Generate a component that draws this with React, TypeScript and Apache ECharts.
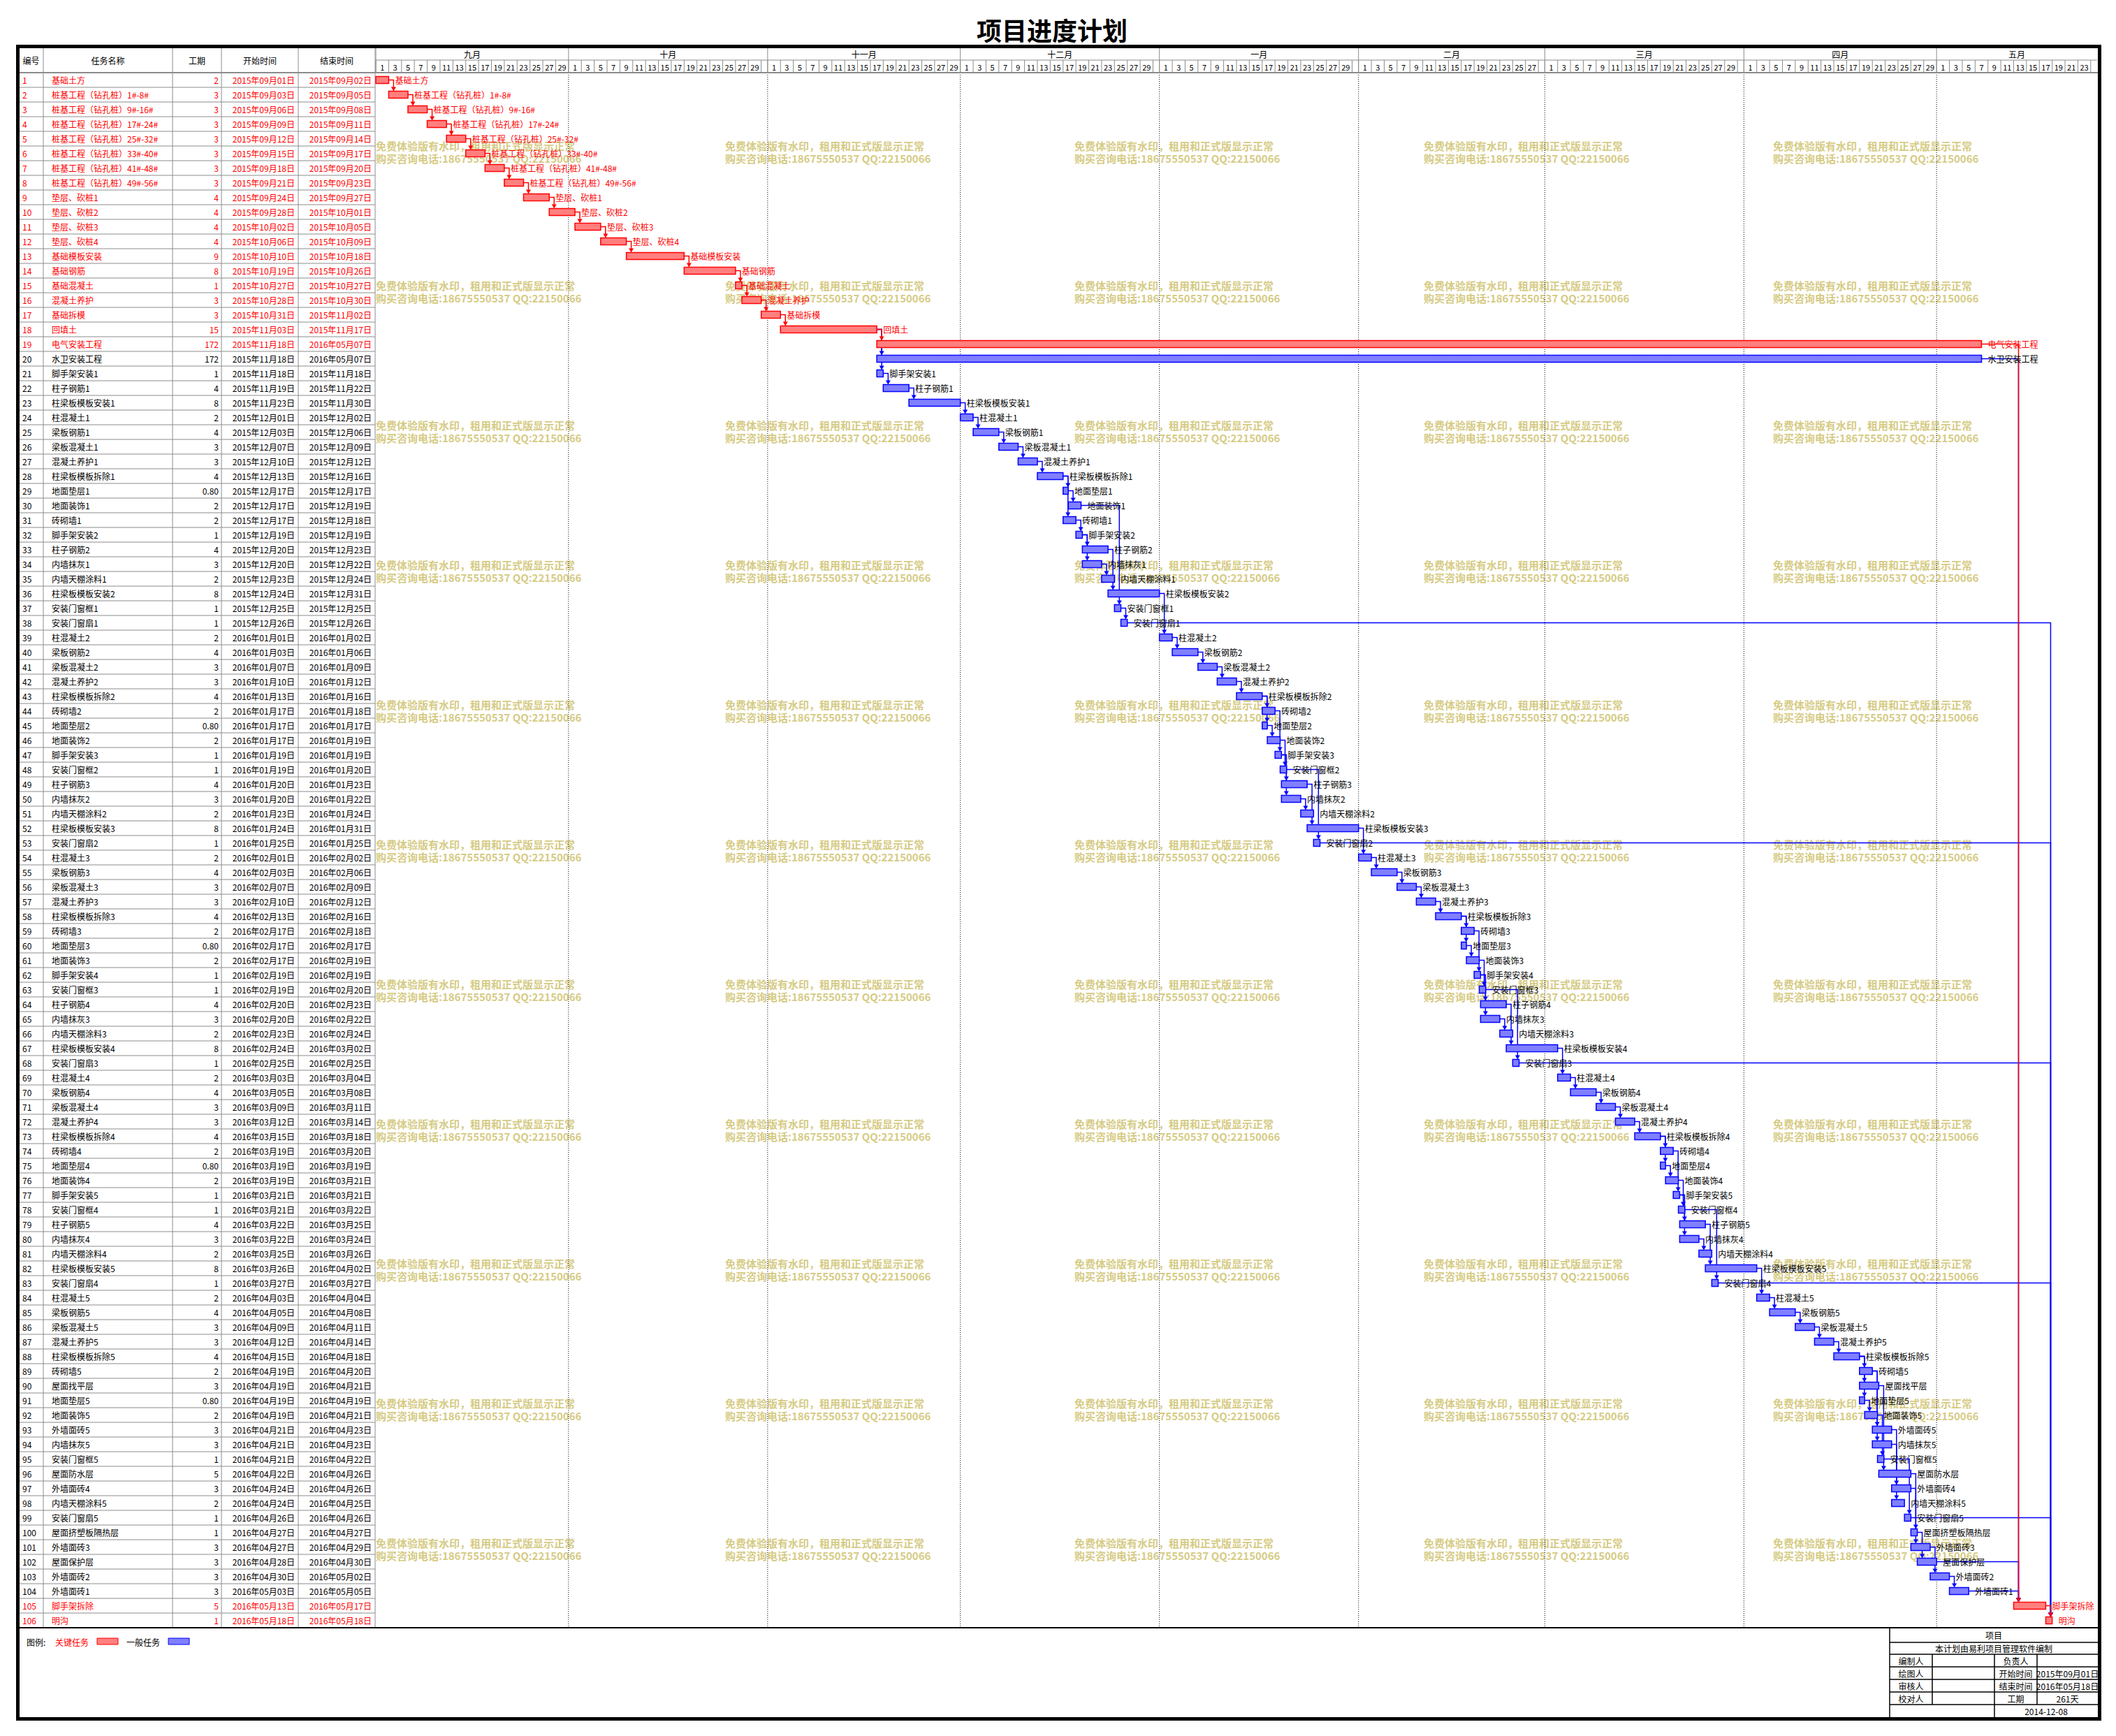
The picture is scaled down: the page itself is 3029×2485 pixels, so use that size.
import React, { useEffect, useRef } from 'react';
import * as echarts from 'echarts';

// ---------------- DATA ----------------
const taskNames = [
  '基础土方', '桩基工程（钻孔桩）1#-8#', '桩基工程（钻孔桩）9#-16#', '桩基工程（钻孔桩）17#-24#',
  '桩基工程（钻孔桩）25#-32#', '桩基工程（钻孔桩）33#-40#', '桩基工程（钻孔桩）41#-48#', '桩基工程（钻孔桩）49#-56#',
  '垫层、砍桩1', '垫层、砍桩2', '垫层、砍桩3', '垫层、砍桩4',
  '基础模板安装', '基础钢筋', '基础混凝土', '混凝土养护', '基础拆模', '回填土',
  '电气安装工程', '水卫安装工程',
  '脚手架安装1', '柱子钢筋1', '柱梁板模板安装1', '柱混凝土1', '梁板钢筋1', '梁板混凝土1', '混凝土养护1', '柱梁板模板拆除1',
  '地面垫层1', '地面装饰1', '砖砌墙1', '脚手架安装2', '柱子钢筋2', '内墙抹灰1', '内墙天棚涂料1', '柱梁板模板安装2', '安装门窗框1', '安装门窗扇1',
  '柱混凝土2', '梁板钢筋2', '梁板混凝土2', '混凝土养护2', '柱梁板模板拆除2', '砖砌墙2', '地面垫层2', '地面装饰2', '脚手架安装3', '安装门窗框2', '柱子钢筋3', '内墙抹灰2', '内墙天棚涂料2', '柱梁板模板安装3', '安装门窗扇2',
  '柱混凝土3', '梁板钢筋3', '梁板混凝土3', '混凝土养护3', '柱梁板模板拆除3', '砖砌墙3', '地面垫层3', '地面装饰3', '脚手架安装4', '安装门窗框3', '柱子钢筋4', '内墙抹灰3', '内墙天棚涂料3', '柱梁板模板安装4', '安装门窗扇3',
  '柱混凝土4', '梁板钢筋4', '梁板混凝土4', '混凝土养护4', '柱梁板模板拆除4', '砖砌墙4', '地面垫层4', '地面装饰4', '脚手架安装5', '安装门窗框4', '柱子钢筋5', '内墙抹灰4', '内墙天棚涂料4', '柱梁板模板安装5', '安装门窗扇4',
  '柱混凝土5', '梁板钢筋5', '梁板混凝土5', '混凝土养护5', '柱梁板模板拆除5', '砖砌墙5', '屋面找平层', '地面垫层5', '地面装饰5', '外墙面砖5', '内墙抹灰5', '安装门窗框5', '屋面防水层', '外墙面砖4', '内墙天棚涂料5', '安装门窗扇5', '屋面挤塑板隔热层', '外墙面砖3', '屋面保护层', '外墙面砖2', '外墙面砖1', '脚手架拆除', '明沟',
];

const durations = [
  2, 3, 3, 3, 3, 3, 3, 3, 4, 4, 4, 4, 9, 8, 1, 3, 3, 15, 172, 172,
  1, 4, 8, 2, 4, 3, 3, 4,
  0.8, 2, 2, 1, 4, 3, 2, 8, 1, 1,
  2, 4, 3, 3, 4, 2, 0.8, 2, 1, 1, 4, 3, 2, 8, 1,
  2, 4, 3, 3, 4, 2, 0.8, 2, 1, 1, 4, 3, 2, 8, 1,
  2, 4, 3, 3, 4, 2, 0.8, 2, 1, 1, 4, 3, 2, 8, 1,
  2, 4, 3, 3, 4, 2, 3, 0.8, 2, 3, 3, 1, 5, 3, 2, 1, 1, 3, 3, 3, 3, 5, 1,
];

const startDates = [
  '2015-09-01', '2015-09-03', '2015-09-06', '2015-09-09', '2015-09-12', '2015-09-15', '2015-09-18', '2015-09-21',
  '2015-09-24', '2015-09-28', '2015-10-02', '2015-10-06', '2015-10-10', '2015-10-19', '2015-10-27', '2015-10-28',
  '2015-10-31', '2015-11-03', '2015-11-18', '2015-11-18',
  '2015-11-18', '2015-11-19', '2015-11-23', '2015-12-01', '2015-12-03', '2015-12-07', '2015-12-10', '2015-12-13',
  '2015-12-17', '2015-12-17', '2015-12-17', '2015-12-19', '2015-12-20', '2015-12-20', '2015-12-23', '2015-12-24', '2015-12-25', '2015-12-26',
  '2016-01-01', '2016-01-03', '2016-01-07', '2016-01-10', '2016-01-13', '2016-01-17', '2016-01-17', '2016-01-17', '2016-01-19', '2016-01-19', '2016-01-20', '2016-01-20', '2016-01-23', '2016-01-24', '2016-01-25',
  '2016-02-01', '2016-02-03', '2016-02-07', '2016-02-10', '2016-02-13', '2016-02-17', '2016-02-17', '2016-02-17', '2016-02-19', '2016-02-19', '2016-02-20', '2016-02-20', '2016-02-23', '2016-02-24', '2016-02-25',
  '2016-03-03', '2016-03-05', '2016-03-09', '2016-03-12', '2016-03-15', '2016-03-19', '2016-03-19', '2016-03-19', '2016-03-21', '2016-03-21', '2016-03-22', '2016-03-22', '2016-03-25', '2016-03-26', '2016-03-27',
  '2016-04-03', '2016-04-05', '2016-04-09', '2016-04-12', '2016-04-15', '2016-04-19', '2016-04-19', '2016-04-19', '2016-04-19', '2016-04-21', '2016-04-21', '2016-04-21', '2016-04-22', '2016-04-24', '2016-04-24', '2016-04-26', '2016-04-27', '2016-04-27', '2016-04-28', '2016-04-30', '2016-05-03', '2016-05-13', '2016-05-18',
];

const endDates = [
  '2015-09-02', '2015-09-05', '2015-09-08', '2015-09-11', '2015-09-14', '2015-09-17', '2015-09-20', '2015-09-23',
  '2015-09-27', '2015-10-01', '2015-10-05', '2015-10-09', '2015-10-18', '2015-10-26', '2015-10-27', '2015-10-30',
  '2015-11-02', '2015-11-17', '2016-05-07', '2016-05-07',
  '2015-11-18', '2015-11-22', '2015-11-30', '2015-12-02', '2015-12-06', '2015-12-09', '2015-12-12', '2015-12-16',
  '2015-12-17', '2015-12-19', '2015-12-18', '2015-12-19', '2015-12-23', '2015-12-22', '2015-12-24', '2015-12-31', '2015-12-25', '2015-12-26',
  '2016-01-02', '2016-01-06', '2016-01-09', '2016-01-12', '2016-01-16', '2016-01-18', '2016-01-17', '2016-01-19', '2016-01-19', '2016-01-20', '2016-01-23', '2016-01-22', '2016-01-24', '2016-01-31', '2016-01-25',
  '2016-02-02', '2016-02-06', '2016-02-09', '2016-02-12', '2016-02-16', '2016-02-18', '2016-02-17', '2016-02-19', '2016-02-19', '2016-02-20', '2016-02-23', '2016-02-22', '2016-02-24', '2016-03-02', '2016-02-25',
  '2016-03-04', '2016-03-08', '2016-03-11', '2016-03-14', '2016-03-18', '2016-03-20', '2016-03-19', '2016-03-21', '2016-03-21', '2016-03-22', '2016-03-25', '2016-03-24', '2016-03-26', '2016-04-02', '2016-03-27',
  '2016-04-04', '2016-04-08', '2016-04-11', '2016-04-14', '2016-04-18', '2016-04-20', '2016-04-21', '2016-04-19', '2016-04-21', '2016-04-23', '2016-04-23', '2016-04-22', '2016-04-26', '2016-04-26', '2016-04-25', '2016-04-26', '2016-04-27', '2016-04-29', '2016-04-30', '2016-05-02', '2016-05-05', '2016-05-17', '2016-05-18',
];

const criticalTasks = [1, 2, 3, 4, 5, 6, 7, 8, 9, 10, 11, 12, 13, 14, 15, 16, 17, 18, 19, 105, 106];

// predecessor -> successor (task numbers)
const links = [
  [1, 2], [2, 3], [3, 4], [4, 5], [5, 6], [6, 7], [7, 8], [8, 9], [9, 10], [10, 11], [11, 12], [12, 13],
  [13, 14], [14, 15], [15, 16], [16, 17], [17, 18], [18, 19], [19, 105], [105, 106],
  [18, 20], [18, 21], [21, 22], [22, 23], [23, 24], [24, 25], [25, 26], [26, 27], [27, 28], [28, 29], [28, 31],
  [29, 30], [31, 32], [30, 37], [32, 33], [32, 34], [34, 35], [33, 36], [36, 39], [37, 38], [38, 106],
  [39, 40], [40, 41], [41, 42], [42, 43], [43, 44], [43, 45], [45, 46], [44, 47], [46, 48], [47, 49], [47, 50],
  [50, 51], [49, 52], [48, 53], [53, 106], [52, 54],
  [54, 55], [55, 56], [56, 57], [57, 58], [58, 59], [58, 60], [60, 61], [59, 62], [61, 63], [62, 64], [62, 65],
  [65, 66], [64, 67], [63, 68], [68, 106], [67, 69],
  [69, 70], [70, 71], [71, 72], [72, 73], [73, 74], [73, 75], [75, 76], [74, 77], [76, 78], [77, 79], [77, 80],
  [80, 81], [79, 82], [78, 83], [83, 106], [82, 84],
  [84, 85], [85, 86], [86, 87], [87, 88], [88, 89], [88, 90], [88, 91], [91, 92], [89, 93], [89, 94], [92, 95],
  [90, 96], [93, 97], [94, 98], [95, 99], [99, 106], [96, 100], [97, 101], [100, 102], [101, 103], [103, 104],
  [102, 105], [104, 105], [20, 105],
];

const monthNames = ['九月', '十月', '十一月', '十二月', '一月', '二月', '三月', '四月', '五月'];
const tableHeaders = ['编号', '任务名称', '工期', '开始时间', '结束时间'];
const watermarkLines = ['免费体验版有水印，租用和正式版显示正常', '购买咨询电话:18675550537 QQ:22150066'];
const infoTitle = '项目';
const infoSubtitle = '本计划由易利项目管理软件编制';
const infoLeftLabels = ['编制人', '绘图人', '审核人', '校对人'];
const infoRightLabels = ['负责人', '开始时间', '结束时间', '工期'];
const printDate = '2014-12-08';
const legendTitle = '图例:';
const legendCritical = '关键任务';
const legendNormal = '一般任务';
const chartTitle = '项目进度计划';

// ---------------- LAYOUT / STYLE ----------------
const FONT = '"Noto Sans CJK SC", "Noto Sans", sans-serif';
const RED = '#FF0000';
const BLUE = '#0000FF';
const GRAY = '#8c8c8c';
const WM_COLOR = '#D6CB85';
const TOTAL_DAYS = 268; // visible timeline span (days from 2015-09-01)
const TABLE_W = 510;
const colEdges = [0, 35, 220, 290, 400, 510];
const FLOOR_LAG = 0.8;

const BASE = Date.UTC(2015, 8, 1);
const DAY = 86400000;
function parse(s: string) {
  const [y, m, d] = s.split('-').map(Number);
  return Date.UTC(y, m - 1, d);
}
function dayIndex(s: string) {
  return Math.round((parse(s) - BASE) / DAY);
}
function fmtCN(s: string) {
  const [y, m, d] = s.split('-');
  return `${y}年${m}月${d}日`;
}
function durLabel(v: number) {
  return v % 1 ? v.toFixed(2) : String(v);
}

const isCritical = taskNames.map((_, i) => criticalTasks.includes(i + 1));
const barStart = startDates.map((s, i) => {
  const s0 = dayIndex(s);
  const span = dayIndex(endDates[i]) - s0 + 1;
  return span > Math.ceil(durations[i]) ? s0 + FLOOR_LAG : s0;
});
const barEnd = barStart.map((s, i) => s + durations[i]);
const ids = taskNames.map((_, i) => String(i + 1));

// calendar cells for the header
const monthCells: number[][] = [];
const dayCells: { s: number; e: number; label: string }[] = [];
for (let d = 0; d < TOTAL_DAYS; d++) {
  const dt = new Date(BASE + d * DAY);
  const dom = dt.getUTCDate();
  const mLen = new Date(Date.UTC(dt.getUTCFullYear(), dt.getUTCMonth() + 1, 0)).getUTCDate();
  if (dom === 1) monthCells.push([d, Math.min(d + mLen, TOTAL_DAYS)]);
  if (dom % 2 === 1) {
    const w = Math.min(2, mLen - dom + 1, TOTAL_DAYS - d);
    dayCells.push({ s: d, e: d + w, label: w === 2 ? String(dom) : '' });
  }
}

function makePattern(color: string) {
  const c = document.createElement('canvas');
  c.width = 2;
  c.height = 2;
  const ctx = c.getContext('2d')!;
  ctx.fillStyle = '#ffffff';
  ctx.fillRect(0, 0, 2, 2);
  ctx.fillStyle = color;
  ctx.fillRect(0, 0, 1, 1);
  ctx.fillRect(1, 1, 1, 1);
  return { image: c, repeat: 'repeat', imageWidth: 2, imageHeight: 2 } as any;
}

function txt(text: string, x: number, y: number, opts: any = {}) {
  return {
    type: 'text',
    style: {
      text, x, y,
      fill: opts.fill || '#000',
      fontSize: opts.fontSize || 12,
      fontFamily: FONT,
      fontWeight: opts.fontWeight || 'normal',
      align: opts.align || 'left',
      verticalAlign: 'middle',
    },
    z: opts.z,
  };
}
function ln(x1: number, y1: number, x2: number, y2: number, stroke: string, lineWidth = 1, dash?: number[]) {
  return { type: 'line', shape: { x1, y1, x2, y2 }, style: { stroke, lineWidth, lineDash: dash } };
}

function buildOption() {
  const redPat = makePattern(RED);
  const bluePat = makePattern(BLUE);

  const minStart = startDates.reduce((a, b) => (parse(a) <= parse(b) ? a : b));
  const maxEnd = endDates.reduce((a, b) => (parse(a) >= parse(b) ? a : b));
  const totalDays = Math.round((parse(maxEnd) - parse(minStart)) / DAY) + 1;

  const linkData = links
    .map(([a, b]) => [barEnd[a - 1], a - 1, barStart[b - 1], b - 1, isCritical[a - 1] && isCritical[b - 1] ? 1 : 0])
    .sort((p, q) => p[4] - q[4]);

  // --- graphic elements (frame, title, legend, info box, watermark)
  const graphics: any[] = [];
  // watermark
  for (let j = 0; j < 5; j++) {
    for (let k = 0; k < 11; k++) {
      const x = 538 + 500 * j;
      const y = 208 + 200 * k;
      graphics.push({ ...txt(watermarkLines[0], x, y, { fill: WM_COLOR, fontSize: 15, fontWeight: 'bold' }), z: 0 });
      graphics.push({ ...txt(watermarkLines[1], x, y + 18, { fill: WM_COLOR, fontSize: 15, fontWeight: 'bold' }), z: 0 });
    }
  }
  // title
  graphics.push({ ...txt(chartTitle, 1506, 42, { fontSize: 36, fontWeight: 'bold', align: 'center' }), z: 10 });
  // header bottom line and table bottom line
  graphics.push({ ...ln(27, 104, 3003, 104, GRAY, 2), z: 10 });
  graphics.push({ ...ln(27, 2330, 3003, 2330, '#000', 2), z: 10 });
  // legend
  graphics.push({ ...txt(legendTitle, 38, 2350), z: 10 });
  graphics.push({ ...txt(legendCritical, 79, 2350, { fill: RED }), z: 10 });
  graphics.push({ type: 'rect', shape: { x: 139, y: 2345, width: 30, height: 9 }, style: { fill: redPat, stroke: RED, lineWidth: 1 }, z: 10 });
  graphics.push({ ...txt(legendNormal, 181, 2350), z: 10 });
  graphics.push({ type: 'rect', shape: { x: 241, y: 2345, width: 30, height: 9 }, style: { fill: bluePat, stroke: BLUE, lineWidth: 1 }, z: 10 });
  // info box
  const ix = [2705, 2766, 2855, 2916, 3003];
  const iy = [2330, 2351, 2368, 2386, 2404, 2422, 2440, 2458];
  graphics.push({ ...ln(ix[0], iy[0], ix[0], iy[7], '#000', 1.5), z: 10 });
  for (let r = 1; r < 7; r++) graphics.push({ ...ln(ix[0], iy[r], ix[4], iy[r], '#000', 1.5), z: 10 });
  [1, 3].forEach((c) => graphics.push({ ...ln(ix[c], iy[2], ix[c], iy[6], '#000', 1.5), z: 10 }));
  graphics.push({ ...ln(ix[2], iy[2], ix[2], iy[7], '#000', 1.5), z: 10 });
  const cxAll = (ix[0] + ix[4]) / 2;
  graphics.push({ ...txt(infoTitle, cxAll, (iy[0] + iy[1]) / 2, { align: 'center' }), z: 10 });
  graphics.push({ ...txt(infoSubtitle, cxAll, (iy[1] + iy[2]) / 2, { align: 'center' }), z: 10 });
  const infoValues = ['', fmtCN(minStart), fmtCN(maxEnd), `${totalDays}天`];
  for (let r = 0; r < 4; r++) {
    const cy = (iy[r + 2] + iy[r + 3]) / 2;
    graphics.push({ ...txt(infoLeftLabels[r], (ix[0] + ix[1]) / 2, cy, { align: 'center' }), z: 10 });
    graphics.push({ ...txt(infoRightLabels[r], (ix[2] + ix[3]) / 2, cy, { align: 'center' }), z: 10 });
    if (infoValues[r]) graphics.push({ ...txt(infoValues[r], (ix[3] + ix[4]) / 2, cy, { align: 'center' }), z: 10 });
  }
  graphics.push({ ...txt(printDate, (ix[2] + ix[4]) / 2, (iy[6] + iy[7]) / 2, { align: 'center' }), z: 10 });
  // outer frame
  graphics.push({ type: 'rect', shape: { x: 25.5, y: 66.5, width: 2980, height: 2394 }, style: { fill: 'none', stroke: '#000', lineWidth: 5 }, z: 20 });

  const series: any[] = [
    // table body rows
    {
      type: 'custom', xAxisIndex: 0, yAxisIndex: 0, silent: true,
      data: ids.map((_, i) => [0, i]), encode: { x: 0, y: 1 },
      renderItem: (params: any, api: any) => {
        const i = api.value(1);
        const c = api.coord([0, i]);
        const h = api.size([0, 1])[1];
        const X = (v: number) => api.coord([v, i])[0];
        const fill = isCritical[i] ? RED : '#000';
        const y = c[1];
        return {
          type: 'group',
          children: [
            ln(X(0), y + h / 2, X(TABLE_W), y + h / 2, GRAY, 1),
            txt(ids[i], X(colEdges[0]) + 5, y, { fill }),
            txt(taskNames[i], X(colEdges[1]) + 12, y, { fill }),
            txt(durLabel(durations[i]), X(colEdges[3]) - 4, y, { fill, align: 'right' }),
            txt(fmtCN(startDates[i]), X(colEdges[4]) - 5, y, { fill, align: 'right' }),
            txt(fmtCN(endDates[i]), X(colEdges[5]) - 5, y, { fill, align: 'right' }),
          ],
        };
      },
    },
    // table body column lines
    {
      type: 'custom', xAxisIndex: 0, yAxisIndex: 0, silent: true,
      data: colEdges.slice(1).map((e) => [e, 0]), encode: { x: 0, y: 1 },
      renderItem: (params: any, api: any) => {
        const x = api.coord([api.value(0), 0])[0];
        const cs = params.coordSys;
        return ln(x, cs.y, x, cs.y + cs.height, GRAY, 1);
      },
    },
    // table header
    {
      type: 'custom', xAxisIndex: 3, yAxisIndex: 3, silent: true,
      data: tableHeaders.map((_, k) => [colEdges[k], colEdges[k + 1], k]), encode: { x: [0, 1] },
      renderItem: (params: any, api: any) => {
        const k = api.value(2);
        const a = api.coord([api.value(0), 0]);
        const b = api.coord([api.value(1), 1]);
        return {
          type: 'group',
          children: [
            txt(tableHeaders[k], (a[0] + b[0]) / 2, (a[1] + b[1]) / 2, { align: 'center' }),
            ln(b[0], a[1], b[0], b[1], GRAY, 1),
          ],
        };
      },
    },
    // timeline header: months
    {
      type: 'custom', xAxisIndex: 2, yAxisIndex: 2, silent: true,
      data: monthCells.map((c, k) => [c[0], c[1], k]), encode: { x: [0, 1] },
      renderItem: (params: any, api: any) => {
        const k = api.value(2);
        const a = api.coord([api.value(0), 0]);
        const m = api.coord([api.value(1), 1]);
        const b = api.coord([api.value(1), 2]);
        return {
          type: 'group',
          children: [
            ln(a[0], a[1], a[0], b[1], GRAY, 1),
            ln(a[0], m[1], m[0], m[1], GRAY, 1),
            txt(monthNames[k], (a[0] + m[0]) / 2, (a[1] + m[1]) / 2, { align: 'center' }),
          ],
        };
      },
    },
    // timeline header: day cells
    {
      type: 'custom', xAxisIndex: 2, yAxisIndex: 2, silent: true,
      data: dayCells.map((c, k) => [c.s, c.e, k]), encode: { x: [0, 1] },
      renderItem: (params: any, api: any) => {
        const k = api.value(2);
        const a = api.coord([api.value(0), 1]);
        const b = api.coord([api.value(1), 2]);
        const children: any[] = [ln(a[0], a[1], a[0], b[1], GRAY, 1)];
        if (dayCells[k].label) {
          children.push(txt(dayCells[k].label, (a[0] + b[0]) / 2, (a[1] + b[1]) / 2 + 0.5, { align: 'center', fontSize: 11 }));
        }
        return { type: 'group', children };
      },
    },
    // month dotted separators in the chart body
    {
      type: 'custom', xAxisIndex: 1, yAxisIndex: 1, silent: true,
      data: monthCells.slice(1).map((c) => [c[0], 0]), encode: { x: 0, y: 1 },
      renderItem: (params: any, api: any) => {
        const x = api.coord([api.value(0), 0])[0];
        const cs = params.coordSys;
        return ln(x, cs.y, x, cs.y + cs.height, '#000', 1, [1, 2]);
      },
    },
    // dependency links
    {
      type: 'custom', xAxisIndex: 1, yAxisIndex: 1, silent: true,
      data: linkData, encode: { x: [0, 2], y: [1, 3] },
      renderItem: (params: any, api: any) => {
        const p1 = api.coord([api.value(0), api.value(1)]);
        const p2 = api.coord([api.value(2), api.value(3)]);
        const color = api.value(4) ? RED : BLUE;
        const dx = p2[0] + 7;
        const top = p2[1] - 5;
        return {
          type: 'group',
          children: [
            { type: 'polyline', shape: { points: [[p1[0], p1[1]], [dx, p1[1]], [dx, top - 5]] }, style: { stroke: color, lineWidth: 1.5, fill: null } },
            { type: 'polygon', shape: { points: [[dx - 3.5, top - 6], [dx + 3.5, top - 6], [dx, top]] }, style: { fill: color } },
          ],
        };
      },
    },
    // task bars + labels
    {
      type: 'custom', xAxisIndex: 1, yAxisIndex: 1, silent: true,
      data: ids.map((_, i) => [barStart[i], barEnd[i], i]), encode: { x: [0, 1], y: 2 },
      renderItem: (params: any, api: any) => {
        const i = api.value(2);
        const s = api.coord([api.value(0), i]);
        const e = api.coord([api.value(1), i]);
        const crit = isCritical[i];
        return {
          type: 'group',
          children: [
            {
              type: 'rect',
              shape: { x: s[0], y: s[1] - 5, width: Math.max(e[0] - s[0], 2), height: 10 },
              style: { fill: crit ? redPat : bluePat, stroke: crit ? RED : BLUE, lineWidth: 1.5 },
            },
            txt(taskNames[i], e[0] + 9, s[1], { fill: crit ? RED : '#000' }),
          ],
        };
      },
    },
  ];

  return {
    animation: false,
    backgroundColor: '#ffffff',
    grid: [
      { left: 27, top: 104, width: TABLE_W, height: 2226 },
      { left: 538, top: 104, width: 2464, height: 2226 },
      { left: 538, top: 68, width: 2464, height: 36 },
      { left: 27, top: 68, width: TABLE_W, height: 36 },
    ],
    xAxis: [
      { gridIndex: 0, type: 'value', min: 0, max: TABLE_W, show: false },
      { gridIndex: 1, type: 'value', min: 0, max: TOTAL_DAYS, show: false },
      { gridIndex: 2, type: 'value', min: 0, max: TOTAL_DAYS, show: false },
      { gridIndex: 3, type: 'value', min: 0, max: TABLE_W, show: false },
    ],
    yAxis: [
      { gridIndex: 0, type: 'category', data: ids, inverse: true, show: false },
      { gridIndex: 1, type: 'category', data: ids, inverse: true, show: false },
      { gridIndex: 2, type: 'value', min: 0, max: 2, inverse: true, show: false },
      { gridIndex: 3, type: 'value', min: 0, max: 1, inverse: true, show: false },
    ],
    graphic: { elements: graphics },
    series,
  };
}

export default function App() {
  const ref = useRef<HTMLDivElement>(null);
  useEffect(() => {
    const chart = echarts.init(ref.current as HTMLDivElement, null, { renderer: 'svg' });
    chart.setOption(buildOption() as any);
    return () => chart.dispose();
  }, []);
  return (
    <div
      ref={ref}
      style={{ position: 'absolute', left: 0, top: 0, width: 3029, height: 2485, background: '#ffffff' }}
    />
  );
}
